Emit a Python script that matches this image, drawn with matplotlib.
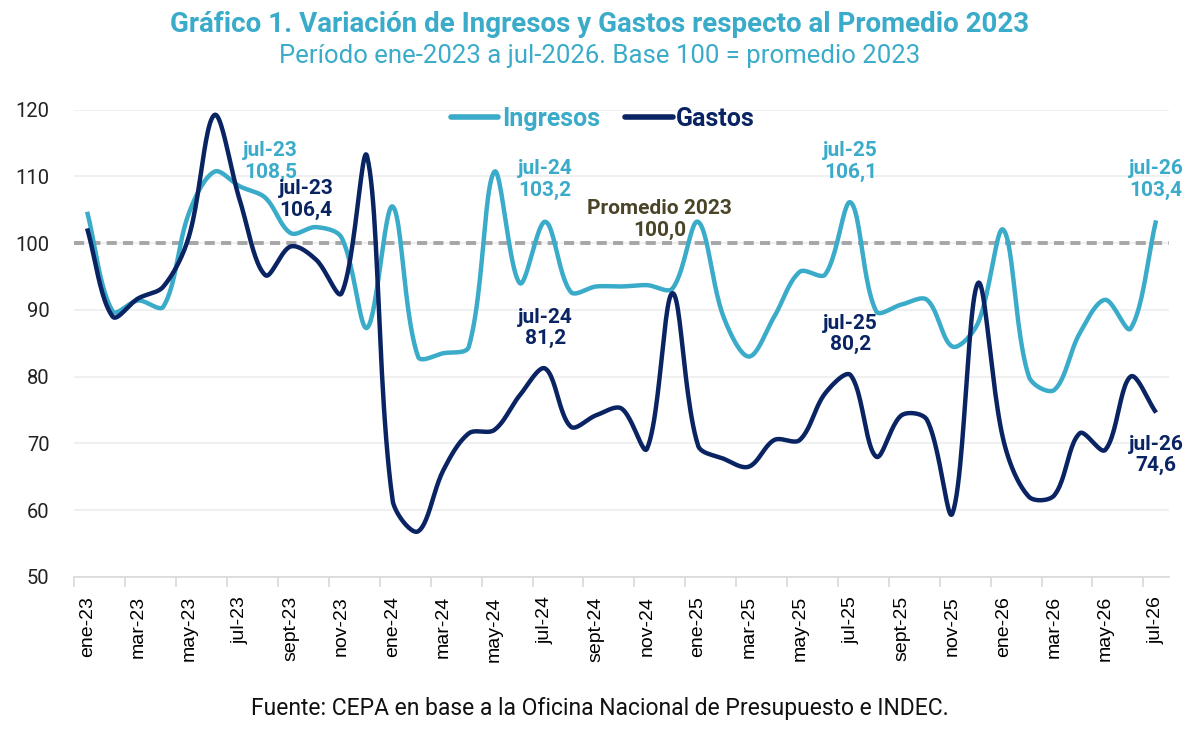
import numpy as np
import matplotlib
matplotlib.use("Agg")
import matplotlib.pyplot as plt
from matplotlib.lines import Line2D

plt.rcParams['font.family'] = ['Roboto', 'DejaVu Sans']

# --- data ---
meses = ["ene", "feb", "mar", "abr", "may", "jun", "jul", "ago", "sept", "oct", "nov", "dic"]
periodos = [f"{meses[m]}-{a}" for a in (23, 24, 25, 26) for m in range(12)][:43]

ingresos = [104.7, 89.8, 91.4, 90.5, 104.5, 110.7, 108.5, 106.8, 101.5, 102.4, 100.8, 87.3,
            105.5, 83.0, 83.5, 84.5, 110.7, 94.0, 103.2, 92.7, 93.5, 93.5, 93.7, 93.2,
            103.2, 89.0, 83.0, 89.0, 95.7, 95.3, 106.1, 89.8, 90.8, 91.5, 84.5, 88.0,
            102.0, 80.0, 78.0, 86.5, 91.5, 87.2, 103.4]
gastos = [102.2, 89.0, 91.7, 93.5, 101.0, 119.2, 106.4, 95.2, 99.5, 97.5, 92.5, 113.0,
          61.5, 56.8, 66.0, 71.5, 72.0, 77.2, 81.2, 72.5, 74.2, 75.2, 69.2, 92.5,
          69.7, 67.7, 66.5, 70.5, 70.5, 77.5, 80.2, 68.0, 74.2, 73.5, 59.5, 94.0,
          70.5, 62.0, 62.2, 71.5, 69.0, 80.0, 74.6]
promedio = 100.0

etiquetas_ing = {6: "108,5", 18: "103,2", 30: "106,1", 42: "103,4"}
etiquetas_gas = {6: "106,4", 18: "81,2", 30: "80,2", 42: "74,6"}

C_ING = "#3AABC9"
C_GAS = "#0A2463"

# pixel size of one month / one unit, used so the smoothing works in screen space
SX, SY = 25.45, 6.67


def suavizar(y, n=24):
    """Bezier curve through the points with chord-weighted tangents (Excel-like)."""
    P = np.column_stack([np.arange(len(y)) * SX, np.asarray(y, float) * SY])
    Q = np.vstack([P[0], P, P[-1]])
    t = np.linspace(0, 1, n, endpoint=False)[:, None]
    out = []
    for i in range(len(P) - 1):
        p0, p1, p2, p3 = Q[i], Q[i + 1], Q[i + 2], Q[i + 3]
        l01 = np.linalg.norm(p1 - p0)
        l12 = np.linalg.norm(p2 - p1)
        l23 = np.linalg.norm(p3 - p2)
        f1 = l12 / (l01 + l12) if l01 + l12 > 0 else 0.5
        f2 = l12 / (l12 + l23) if l12 + l23 > 0 else 0.5
        c1 = p1 + (p2 - p0) * f1 / 3
        c2 = p2 - (p3 - p1) * f2 / 3
        seg = ((1 - t) ** 3) * p1 + 3 * ((1 - t) ** 2) * t * c1 + 3 * (1 - t) * t ** 2 * c2 + t ** 3 * p2
        out.append(seg)
    out.append(P[-1][None, :])
    out = np.vstack(out)
    return out[:, 0] / SX, out[:, 1] / SY


fig = plt.figure(figsize=(12, 7.31), dpi=100)
ax = fig.add_axes([0.062, 0.211, 0.912, 0.639])

x_ing, y_ing = suavizar(ingresos)
x_gas, y_gas = suavizar(gastos)

ax.axhline(promedio, color="#A6A6A6", lw=2.8, ls=(0, (2.6, 1.6)), zorder=2)
ax.plot(x_ing, y_ing, color=C_ING, lw=3.2, solid_capstyle="butt", zorder=3)
ax.plot(x_gas, y_gas, color=C_GAS, lw=3.2, solid_capstyle="butt", zorder=4)

ax.set_xlim(-0.5, len(periodos) - 0.5)
ax.set_ylim(50, 120)
ax.set_yticks(np.arange(50, 121, 10))
ax.grid(axis="y", color="#EEEEEE", lw=1.2)
ax.set_axisbelow(True)
for s in ("top", "right", "left"):
    ax.spines[s].set_visible(False)
ax.spines["bottom"].set_color("#D9D9D9")
ax.spines["bottom"].set_linewidth(1.2)

ax.tick_params(axis="y", length=0, labelsize=14.5, pad=18, labelcolor="#222222")
ax.set_xticks(np.arange(0, len(periodos), 2))
ax.set_xticklabels(periodos[::2], rotation=90, fontsize=14,
                   family=["Liberation Sans", "DejaVu Sans"])
ax.tick_params(axis="x", length=0, pad=14)
ax.set_xticks(np.arange(-0.5, len(periodos), 2), minor=True)
ax.tick_params(axis="x", which="minor", length=7, color="#D9D9D9", width=1.2)

# labels for the july points
off_ing = {6: (1.2, 162), 18: (0, 180), 30: (0, 162), 42: (0, 180)}
off_gas = {6: (2.6, 200), 18: (0, 328), 30: (0, 334), 42: (0, 455)}


def y_px(py):
    return 120 - (py - 110) / (467 / 70)


for i, txt in etiquetas_ing.items():
    dx, py = off_ing[i]
    ax.text(i + dx, y_px(py), f"{periodos[i]}\n{txt}", color=C_ING, fontsize=15,
            fontweight="bold", ha="center", va="center", linespacing=1.15, zorder=5)
for i, txt in etiquetas_gas.items():
    dx, py = off_gas[i]
    ax.text(i + dx, y_px(py), f"{periodos[i]}\n{txt}", color=C_GAS, fontsize=15,
            fontweight="bold", ha="center", va="center", linespacing=1.15, zorder=5)

ax.text(22.5, y_px(220), "Promedio 2023\n100,0", color="#4A4428", fontsize=15,
        fontweight="bold", ha="center", va="center", linespacing=1.15, zorder=5)

handles = [Line2D([], [], color=C_ING, lw=4, solid_capstyle="round"),
           Line2D([], [], color=C_GAS, lw=4, solid_capstyle="round")]
leg = ax.legend(handles, ["Ingresos", "Gastos"], loc="center", bbox_to_anchor=(0.483, 0.98),
                ncol=2, frameon=False, handlelength=1.9, handletextpad=0.15,
                columnspacing=1.0, prop={"size": 18, "weight": "bold"})
for t, c in zip(leg.get_texts(), (C_ING, C_GAS)):
    t.set_color(c)

fig.text(0.5, 0.967, "Gráfico 1. Variación de Ingresos y Gastos respecto al Promedio 2023",
         ha="center", va="center", fontsize=20, fontweight="bold", color=C_ING)
fig.text(0.5, 0.923, "Período ene-2023 a jul-2026. Base 100 = promedio 2023",
         ha="center", va="center", fontsize=18.5, color=C_ING)
fig.text(0.5, 0.031, "Fuente: CEPA en base a la Oficina Nacional de Presupuesto e INDEC.",
         ha="center", va="center", fontsize=16.5, color="#111111")

fig.savefig("out.png", dpi=100)
